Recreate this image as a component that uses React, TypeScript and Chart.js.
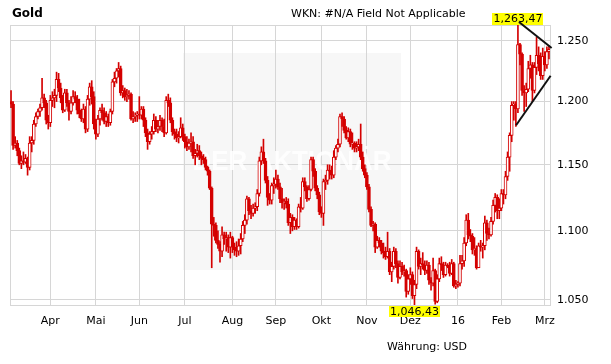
import React, { useEffect, useRef } from 'react';
import { Chart, registerables } from 'chart.js';

Chart.register(...registerables);

// Daily OHLC, index 0 = 5 Mar 2015 ... index 260 = 3 Mar 2016 (weekdays)
const opens = [
  1200, 1198, 1165, 1167, 1161, 1151, 1153, 1152, 1155, 1148,
  1167, 1169, 1182, 1188, 1192, 1195, 1203, 1199, 1185, 1183,
  1201, 1203, 1205, 1218, 1211, 1203, 1193, 1207, 1199, 1192,
  1199, 1204, 1202, 1193, 1190, 1186, 1194, 1178, 1202, 1212,
  1204, 1182, 1174, 1186, 1193, 1191, 1184, 1188, 1183, 1192,
  1216, 1219, 1225, 1227, 1207, 1209, 1204, 1205, 1206, 1186,
  1188, 1189, 1190, 1189, 1194, 1185, 1175, 1168, 1174, 1176,
  1185, 1178, 1180, 1185, 1180, 1175, 1201, 1199, 1185, 1176,
  1174, 1171, 1172, 1179, 1172, 1168, 1164, 1167, 1168, 1157,
  1159, 1161, 1157, 1155, 1154, 1148, 1145, 1132, 1105, 1104,
  1093, 1090, 1085, 1097, 1094, 1095, 1088, 1095, 1088, 1086,
  1085, 1089, 1094, 1104, 1108, 1124, 1115, 1113, 1117, 1118,
  1128, 1153, 1160, 1153, 1138, 1125, 1123, 1134, 1135, 1139,
  1133, 1124, 1121, 1122, 1120, 1106, 1110, 1103, 1108, 1103,
  1118, 1117, 1137, 1133, 1124, 1131, 1154, 1145, 1132, 1127,
  1114, 1113, 1137, 1138, 1146, 1145, 1142, 1156, 1163, 1166,
  1188, 1186, 1177, 1171, 1176, 1166, 1167, 1163, 1164, 1166,
  1156, 1147, 1142, 1133, 1116, 1104, 1105, 1088, 1093, 1091,
  1085, 1084, 1081, 1085, 1070, 1074, 1085, 1076, 1066, 1074,
  1070, 1071, 1056, 1065, 1068, 1053, 1061, 1085, 1074, 1076,
  1075, 1071, 1075, 1064, 1062, 1071, 1049, 1065, 1076, 1075,
  1068, 1075, 1074, 1069, 1076, 1060, 1061, 1062, 1076, 1078,
  1091, 1108, 1097, 1096, 1086, 1087, 1073, 1089, 1088, 1089,
  1106, 1098, 1097, 1107, 1119, 1125, 1115, 1117, 1128, 1127,
  1141, 1156, 1173, 1197, 1198, 1194, 1247, 1239, 1209, 1207,
  1210, 1227, 1230, 1209, 1228, 1238, 1231, 1221, 1237, 1230,
  1241,
];
const highs = [
  1209, 1200, 1172, 1169, 1163, 1157, 1160, 1158, 1156, 1172,
  1172, 1185, 1191, 1194, 1198, 1219, 1206, 1201, 1189, 1205,
  1208, 1210, 1224, 1223, 1215, 1205, 1210, 1210, 1201, 1204,
  1209, 1208, 1205, 1202, 1194, 1198, 1196, 1205, 1215, 1217,
  1208, 1186, 1189, 1195, 1198, 1195, 1192, 1190, 1194, 1218,
  1224, 1227, 1232, 1229, 1213, 1211, 1210, 1209, 1207, 1192,
  1191, 1192, 1204, 1196, 1196, 1187, 1178, 1176, 1180, 1190,
  1188, 1185, 1189, 1187, 1186, 1204, 1206, 1203, 1187, 1178,
  1178, 1176, 1187, 1182, 1174, 1172, 1170, 1175, 1172, 1162,
  1166, 1165, 1160, 1158, 1156, 1149, 1146, 1133, 1110, 1106,
  1100, 1092, 1103, 1099, 1099, 1097, 1099, 1096, 1091, 1092,
  1094, 1098, 1107, 1112, 1126, 1125, 1119, 1120, 1121, 1131,
  1156, 1164, 1170, 1155, 1141, 1128, 1136, 1140, 1146, 1142,
  1136, 1132, 1124, 1125, 1124, 1113, 1112, 1110, 1109, 1120,
  1125, 1140, 1140, 1134, 1134, 1156, 1156, 1147, 1134, 1129,
  1118, 1139, 1142, 1150, 1150, 1149, 1161, 1165, 1170, 1190,
  1191, 1188, 1180, 1179, 1178, 1175, 1168, 1168, 1170, 1182,
  1160, 1150, 1144, 1135, 1118, 1107, 1106, 1096, 1095, 1093,
  1091, 1088, 1099, 1087, 1077, 1088, 1087, 1078, 1078, 1077,
  1075, 1072, 1068, 1073, 1070, 1064, 1088, 1086, 1080, 1084,
  1078, 1078, 1077, 1066, 1080, 1072, 1068, 1080, 1081, 1077,
  1077, 1076, 1077, 1079, 1077, 1064, 1063, 1082, 1082, 1095,
  1112, 1113, 1101, 1098, 1095, 1089, 1091, 1093, 1091, 1111,
  1108, 1102, 1110, 1123, 1128, 1127, 1124, 1131, 1131, 1145,
  1160, 1175, 1200, 1200, 1200, 1263.47, 1248, 1240, 1213, 1215,
  1233, 1238, 1232, 1232, 1253, 1245, 1240, 1244, 1241, 1245,
  1246,
];
const lows = [
  1195, 1162, 1163, 1157, 1150, 1147, 1150, 1151, 1142, 1146,
  1160, 1166, 1180, 1186, 1188, 1193, 1195, 1182, 1178, 1180,
  1196, 1195, 1200, 1208, 1199, 1191, 1192, 1196, 1185, 1190,
  1197, 1199, 1190, 1187, 1184, 1183, 1175, 1176, 1197, 1198,
  1178, 1170, 1172, 1181, 1185, 1182, 1180, 1180, 1181, 1190,
  1212, 1215, 1220, 1205, 1203, 1201, 1200, 1202, 1185, 1183,
  1184, 1184, 1186, 1186, 1180, 1172, 1162, 1166, 1170, 1174,
  1176, 1175, 1177, 1176, 1172, 1174, 1196, 1183, 1173, 1170,
  1168, 1167, 1171, 1169, 1163, 1161, 1162, 1160, 1155, 1150,
  1156, 1154, 1150, 1151, 1146, 1142, 1131, 1073, 1096, 1091,
  1087, 1077, 1081, 1090, 1085, 1084, 1080, 1084, 1082, 1081,
  1082, 1083, 1092, 1098, 1105, 1112, 1109, 1111, 1113, 1115,
  1126, 1150, 1151, 1136, 1119, 1120, 1120, 1128, 1132, 1131,
  1121, 1117, 1116, 1117, 1104, 1098, 1100, 1101, 1101, 1102,
  1114, 1116, 1130, 1122, 1123, 1130, 1141, 1130, 1124, 1112,
  1110, 1104, 1131, 1135, 1139, 1139, 1140, 1154, 1160, 1164,
  1180, 1175, 1170, 1168, 1164, 1162, 1160, 1160, 1161, 1154,
  1145, 1140, 1131, 1114, 1103, 1100, 1084, 1087, 1088, 1083,
  1080, 1079, 1080, 1068, 1063, 1072, 1073, 1062, 1065, 1068,
  1067, 1052, 1054, 1061, 1051, 1046.43, 1058, 1072, 1068, 1072,
  1068, 1069, 1061, 1057, 1060, 1047, 1048, 1063, 1071, 1066,
  1067, 1073, 1067, 1068, 1059, 1058, 1059, 1060, 1072, 1074,
  1089, 1094, 1092, 1083, 1082, 1072, 1073, 1085, 1080, 1086,
  1093, 1094, 1096, 1105, 1114, 1109, 1109, 1115, 1120, 1124,
  1138, 1145, 1168, 1185, 1180, 1191, 1230, 1205, 1192, 1196,
  1208, 1219, 1200, 1207, 1222, 1225, 1218, 1218, 1225, 1227,
  1235,
];
const closes = [
  1198, 1165, 1167, 1161, 1151, 1153, 1152, 1155, 1148, 1167,
  1169, 1182, 1188, 1192, 1195, 1203, 1199, 1185, 1183, 1201,
  1203, 1205, 1218, 1211, 1203, 1193, 1207, 1199, 1192, 1199,
  1204, 1202, 1193, 1190, 1186, 1194, 1178, 1202, 1212, 1204,
  1182, 1174, 1186, 1193, 1191, 1184, 1188, 1183, 1192, 1216,
  1219, 1225, 1227, 1207, 1209, 1204, 1205, 1206, 1186, 1188,
  1189, 1190, 1189, 1194, 1185, 1175, 1168, 1174, 1176, 1185,
  1178, 1180, 1185, 1180, 1175, 1201, 1199, 1185, 1176, 1174,
  1171, 1172, 1179, 1172, 1168, 1164, 1167, 1168, 1157, 1159,
  1161, 1157, 1155, 1154, 1148, 1145, 1132, 1105, 1104, 1093,
  1090, 1085, 1097, 1094, 1095, 1088, 1095, 1088, 1086, 1085,
  1089, 1094, 1104, 1108, 1124, 1115, 1113, 1117, 1118, 1128,
  1153, 1160, 1153, 1138, 1125, 1123, 1134, 1135, 1139, 1133,
  1124, 1121, 1122, 1120, 1106, 1110, 1103, 1108, 1103, 1118,
  1117, 1137, 1133, 1124, 1131, 1154, 1145, 1132, 1127, 1114,
  1113, 1137, 1138, 1146, 1145, 1142, 1156, 1163, 1166, 1188,
  1186, 1177, 1171, 1176, 1166, 1167, 1163, 1164, 1166, 1156,
  1147, 1142, 1133, 1116, 1104, 1105, 1088, 1093, 1091, 1085,
  1084, 1081, 1085, 1070, 1074, 1085, 1076, 1066, 1074, 1070,
  1071, 1056, 1065, 1068, 1053, 1061, 1085, 1074, 1076, 1075,
  1071, 1075, 1064, 1062, 1071, 1049, 1065, 1076, 1075, 1068,
  1075, 1074, 1069, 1076, 1060, 1061, 1062, 1076, 1078, 1091,
  1108, 1097, 1096, 1086, 1087, 1073, 1089, 1088, 1089, 1106,
  1098, 1097, 1107, 1119, 1125, 1115, 1117, 1128, 1127, 1141,
  1156, 1173, 1197, 1198, 1194, 1247, 1239, 1209, 1207, 1210,
  1227, 1230, 1209, 1228, 1238, 1231, 1221, 1237, 1230, 1241,
  1243,
];

// Month starts (bar index) and their labels
const monthTickIndex = [19, 41, 62, 84, 107, 128, 150, 172, 193, 216, 237, 258];
const monthLabels = ['Apr', 'Mai', 'Jun', 'Jul', 'Aug', 'Sep', 'Okt', 'Nov', 'Dez', '16', 'Feb', 'Mrz'];
const priceTicks = [1050, 1100, 1150, 1200, 1250];

// Triangle trend lines (bar index, price)
const trendUpper = [{ x: 245.5, y: 1266 }, { x: 261.3, y: 1244 }];
const trendLower = [{ x: 244.1, y: 1181 }, { x: 260.8, y: 1221 }];

const titleText = 'Gold';
const wknText = 'WKN: #N/A Field Not Applicable';
const currencyText = 'Währung: USD';
const watermarkText = 'DER AKTIONÄR';

const RED = '#d40000';
const GRID = '#d6d6d6';
const FONT = '"DejaVu Sans", Verdana, sans-serif';

const fmtTick = (v: number) => `${Math.floor(v / 1000)}.${String(Math.round(v % 1000)).padStart(3, '0')}`;
const fmtPrice = (v: number) => {
  const [i, d] = v.toFixed(2).split('.');
  return `${i.slice(0, -3)},${i.slice(-3)},${d}`;
};

const decor = {
  id: 'decor',
  beforeDraw(chart: any) {
    const { ctx } = chart;
    ctx.save();
    ctx.fillStyle = '#ffffff';
    ctx.fillRect(0, 0, chart.width, chart.height);
    ctx.fillStyle = '#f7f7f7';
    ctx.fillRect(183, 53, 218, 217);
    ctx.fillStyle = '#000';
    ctx.textBaseline = 'middle';
    ctx.textAlign = 'left';
    ctx.font = `bold 12px ${FONT}`;
    ctx.fillText(titleText, 12, 14);
    ctx.font = `11px ${FONT}`;
    ctx.fillText(wknText, 291, 14);
    ctx.fillText(currencyText, 387, 347);
    ctx.restore();
  },
  beforeDatasetsDraw(chart: any) {
    const { ctx, chartArea: a } = chart;
    ctx.save();
    ctx.fillStyle = 'rgba(255,255,255,0.85)';
    ctx.font = 'bold 28px "Liberation Sans", Arial, sans-serif';
    ctx.textAlign = 'center';
    ctx.textBaseline = 'middle';
    ctx.fillText(watermarkText, 292, 162, 199);
    ctx.strokeStyle = GRID;
    ctx.lineWidth = 1;
    ctx.strokeRect(a.left + 0.5, a.top + 0.5, a.right - a.left, a.bottom - a.top);
    // high / low tags
    const xs = chart.scales.x;
    const hi = Math.max(...highs);
    const lo = Math.min(...lows);
    const tag = (txt: string, cx: number, top: number, h: number) => {
      ctx.font = `11px ${FONT}`;
      const w = ctx.measureText(txt).width + 2;
      ctx.fillStyle = '#ffff00';
      ctx.fillRect(Math.round(cx - w / 2), top, Math.round(w), h);
      ctx.fillStyle = '#000';
      ctx.textAlign = 'center';
      ctx.textBaseline = 'middle';
      ctx.fillText(txt, cx, top + h / 2 + 0.5);
    };
    tag(fmtPrice(hi), xs.getPixelForValue(highs.indexOf(hi)), a.top - 12, 12);
    tag(fmtPrice(lo), xs.getPixelForValue(lows.indexOf(lo)), a.bottom + 1, 11);
    ctx.restore();
  },
};

export default function App() {
  const ref = useRef<HTMLCanvasElement | null>(null);
  useEffect(() => {
    if (!ref.current) return;
    const idx = opens.map((_, i) => i);
    const wickData = idx.map((i) => ({ x: i, y: [lows[i], highs[i]] }));
    const bodyData = idx.map((i) => ({
      x: i,
      y: [Math.min(opens[i], closes[i]), Math.max(opens[i], closes[i])],
    }));
    const bodyFill = idx.map((i) => (closes[i] >= opens[i] ? '#ffffff' : RED));
    const chart = new Chart(ref.current, {
      type: 'bar',
      data: {
        datasets: [
          {
            type: 'line',
            data: trendUpper as any,
            borderColor: '#111',
            borderWidth: 2,
            pointRadius: 0,
            clip: false as any,
            order: 0,
          } as any,
          {
            type: 'line',
            data: trendLower as any,
            borderColor: '#111',
            borderWidth: 2,
            pointRadius: 0,
            clip: false as any,
            order: 0,
          } as any,
          {
            type: 'bar',
            data: bodyData as any,
            backgroundColor: bodyFill,
            borderColor: RED,
            borderWidth: 1,
            borderSkipped: false,
            barThickness: 3,
            grouped: false,
            order: 1,
          } as any,
          {
            type: 'bar',
            data: wickData as any,
            backgroundColor: RED,
            borderWidth: 0,
            barThickness: 1,
            grouped: false,
            order: 2,
          } as any,
        ],
      },
      options: {
        responsive: false,
        animation: false,
        devicePixelRatio: 1,
        layout: { padding: { left: 10, top: 25, right: 0, bottom: 0 } },
        plugins: { legend: { display: false }, tooltip: { enabled: false }, title: { display: false } },
        scales: {
          x: {
            type: 'linear',
            min: -0.5,
            max: opens.length - 0.5,
            offset: false,
            afterBuildTicks: (s: any) => {
              s.ticks = monthTickIndex.map((v) => ({ value: v }));
            },
            afterFit: (s: any) => {
              s.height = 59;
            },
            ticks: {
              autoSkip: false,
              maxRotation: 0,
              padding: 10,
              color: '#000',
              font: { family: FONT, size: 11 },
              callback: (v: any) => {
                const k = monthTickIndex.indexOf(Number(v));
                return k >= 0 ? monthLabels[k] : '';
              },
            },
            grid: { color: GRID, drawTicks: false, offset: false },
            border: { display: false },
          },
          y: {
            type: 'logarithmic',
            position: 'right',
            min: Math.min(...lows),
            max: Math.max(...highs),
            afterBuildTicks: (s: any) => {
              s.ticks = priceTicks.map((v) => ({ value: v }));
            },
            afterFit: (s: any) => {
              s.width = 61;
            },
            ticks: {
              autoSkip: false,
              padding: 7,
              color: '#000',
              font: { family: FONT, size: 11 },
              callback: (v: any) => fmtTick(Number(v)),
            },
            grid: { color: GRID, drawTicks: false },
            border: { display: false },
          },
        },
      } as any,
      plugins: [decor],
    });
    return () => chart.destroy();
  }, []);
  return (
    <div style={{ position: 'absolute', left: 0, top: 0, width: 611, height: 364 }}>
      <canvas ref={ref} width={611} height={364} style={{ display: 'block' }} />
    </div>
  );
}
